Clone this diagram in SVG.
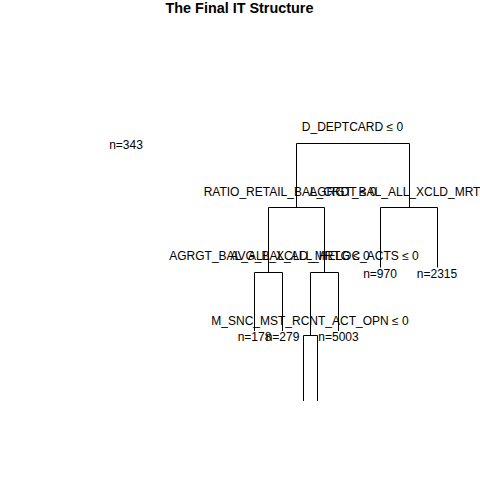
<svg xmlns="http://www.w3.org/2000/svg" width="480" height="480" viewBox="0 0 480 480">
<style>
text{font-family:"Liberation Sans",Arial,sans-serif;font-size:12px;fill:#000;text-anchor:middle}
.title{font-weight:bold;font-size:14.4px}
.edge{fill:none;stroke:#000;stroke-width:1}
</style>
<rect width="480" height="480" fill="#fff"/>
<text class="title" x="239.5" y="13">The Final IT Structure</text>
<g id="connectors">
<path class="edge" d="M296.5,207.5 V143.5 H409.5 V207.5"/>
<path class="edge" d="M268.5,272.5 V207.5 H324.5 V272.5"/>
<path class="edge" d="M380.5,267.5 V207.5 H437.5 V267.5"/>
<path class="edge" d="M254.5,331 V272.5 H282.5 V331"/>
<path class="edge" d="M310.5,335.5 V272.5 H338.5 V331"/>
<path class="edge" d="M303.5,401 V335.5 H317.5 V401"/>
</g>
<g id="node-root"><text x="352.5" y="130.5">D_DEPTCARD ≤ 0</text></g>
<g id="node-stray"><text x="126" y="149">n=343</text></g>
<g id="node-l"><text x="290" y="195.5">RATIO_RETAIL_BAL_CRDT ≤ 0</text></g>
<g id="node-r"><text x="409.5" y="195.5">AGRGT_BAL_ALL_XCLD_MRTG ≤ 0</text></g>
<g id="node-ll"><text x="269.5" y="260">AGRGT_BAL_ALL_XCLD_MRTG ≤ 0</text></g>
<g id="node-lr"><text x="324.5" y="260">AVG_BAL_ALL_HELOC_ACTS ≤ 0</text></g>
<g id="node-rl"><text x="380" y="278">n=970</text></g>
<g id="node-rr"><text x="437" y="278">n=2315</text></g>
<g id="node-lll"><text x="254.5" y="341">n=178</text></g>
<g id="node-llr"><text x="282.5" y="341">n=279</text></g>
<g id="node-lrl"><text x="310" y="324.5">M_SNC_MST_RCNT_ACT_OPN ≤ 0</text></g>
<g id="node-lrr"><text x="338.5" y="341">n=5003</text></g>
</svg>
